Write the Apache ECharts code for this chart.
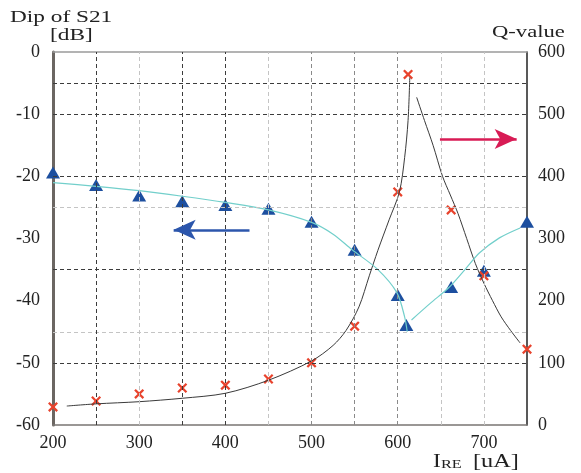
<!DOCTYPE html>
<html>
<head>
<meta charset="utf-8">
<script src="https://cdn.jsdelivr.net/npm/echarts@6/dist/echarts.min.js"></script>
<style>
html,body{margin:0;padding:0;background:#fff;}
#chart{width:581px;height:473px;}
</style>
</head>
<body>
<div id="chart"></div>
<script>
// ---- data ----
const xTickLabels = [200, 300, 400, 500, 600, 700];
const dipX = [200, 250, 300, 350, 400, 450, 500, 550, 600, 610, 662, 700, 750];
const dipDb = [-19.4, -21.4, -23.1, -24.0, -24.6, -25.2, -27.3, -31.8, -39.1, -43.9, -37.8, -35.2, -27.3];
const qX = [200, 250, 300, 350, 400, 450, 500, 550, 600, 612, 662, 700, 750];
const qVal = [29, 38.6, 50, 59.5, 64, 74, 100, 159, 375, 564, 346, 240, 122];
// fitted curves
const qFitLeftX = [216, 250, 300, 350, 400, 450, 500, 525, 540, 555, 567, 577, 590, 602, 608, 612, 614];
const qFitLeftY = [30.5, 34, 37.5, 43, 51, 72, 103, 128, 152, 190, 240, 281, 330, 375, 430, 490, 559];
const qFitRightX = [622, 631, 641, 652, 661, 670, 680, 690, 700, 710, 720, 731, 742];
const qFitRightY = [527, 490, 450, 400, 370, 340, 300, 260, 228, 200, 174, 152, 132];
const dipFitLeftX = [200, 250, 300, 350, 400, 450, 500, 525, 547, 577, 599, 608, 611];
const dipFitLeftY = [-21.0, -21.6, -22.3, -23.2, -24.2, -25.4, -27.4, -29.3, -31.8, -35.0, -38.7, -42.6, -45.0];
const dipFitRightX = [616, 638, 660, 678, 695, 718, 742];
const dipFitRightY = [-43.1, -40.4, -37.8, -35.0, -32.3, -29.9, -28.3];
// grid lines (left axis units / x units)
const hGridDark = [-5, -10, -20, -35, -50];
const hGridLight = [-25, -45];
const vGridDark = [250, 350, 400];
const vGridMid = [500, 550, 600];
const vGridLight = [300, 450, 650, 700];
// annotation arrows
const blueArrow = [[428, -28.6], [340, -28.6]];
const redArrow = [[649, -14], [738, -14]];

const zip = (xs, ys) => xs.map((x, i) => [x, ys[i]]);
const FONT = 'Liberation Serif';
const dashDark = {color: '#3c3c3c', type: [4, 3], width: 1};
const dashMid = {color: '#8a8a8a', type: [4, 3], width: 1};
const dashLight = {color: '#c4c4c4', type: [4, 3], width: 1};

const gridLines = []
  .concat(hGridDark.map(v => ({yAxis: v, lineStyle: dashDark})))
  .concat(hGridLight.map(v => ({yAxis: v, lineStyle: dashLight})))
  .concat(vGridDark.map(v => ({xAxis: v, lineStyle: dashDark})))
  .concat(vGridMid.map(v => ({xAxis: v, lineStyle: dashMid})))
  .concat(vGridLight.map(v => ({xAxis: v, lineStyle: dashLight})));

const crossPath = 'path://M0,1.6L1.6,0L5,3.4L8.4,0L10,1.6L6.6,5L10,8.4L8.4,10L5,6.6L1.6,10L0,8.4L3.4,5Z';
const labelStyle = {fontFamily: FONT, fontSize: 18, color: '#222'};

const chart = echarts.init(document.getElementById('chart'), null, {renderer: 'canvas'});
chart.setOption({
  animation: false,
  backgroundColor: '#fff',
  grid: {left: 53, right: 54, top: 52, bottom: 48},
  xAxis: [{
    type: 'value', min: 200, max: 750, interval: 100,
    axisLine: {onZero: false, lineStyle: {color: '#7a7673', width: 1.5}},
    axisTick: {show: false}, splitLine: {show: false},
    axisLabel: Object.assign({margin: 9, formatter: v => xTickLabels.includes(v) ? String(v) : ''}, labelStyle)
  }, {
    type: 'value', min: 200, max: 750, position: 'top',
    axisLine: {show: true, onZero: false, lineStyle: {color: '#9a9a9a', width: 1.5}},
    axisTick: {show: false}, splitLine: {show: false}, axisLabel: {show: false}
  }],
  yAxis: [{
    type: 'value', min: -60, max: 0, interval: 10, position: 'left',
    axisLine: {show: true, onZero: false, lineStyle: {color: '#6b6662', width: 3}},
    axisTick: {show: false}, splitLine: {show: false},
    axisLabel: Object.assign({margin: 13}, labelStyle)
  }, {
    type: 'value', min: 0, max: 600, interval: 100, position: 'right',
    axisLine: {show: true, onZero: false, lineStyle: {color: '#222', width: 1.5}},
    axisTick: {show: false}, splitLine: {show: false},
    axisLabel: Object.assign({margin: 11}, labelStyle)
  }],
  graphic: [
    {type: 'text', left: 10, top: 9, scaleX: 1.37, style: {text: 'Dip of S21', font: '17px "Liberation Serif"', fill: '#222'}},
    {type: 'text', left: 50, top: 27, scaleX: 1.37, style: {text: '[dB]', font: '17px "Liberation Serif"', fill: '#222'}},
    {type: 'text', left: 492, top: 24, scaleX: 1.33, style: {text: 'Q-value', font: '17px "Liberation Serif"', fill: '#222'}},
    {type: 'text', left: 433, top: 453, scaleX: 1.3, style: {text: 'I', font: '18px "Liberation Serif"', fill: '#222'}},
    {type: 'text', left: 441, top: 459, scaleX: 1.35, style: {text: 'RE', font: '12px "Liberation Serif"', fill: '#222'}},
    {type: 'text', left: 473, top: 453, scaleX: 1.35, style: {text: '[uA]', font: '18px "Liberation Serif"', fill: '#222'}}
  ],
  series: [
    {
      type: 'line', data: [], silent: true,
      markLine: {silent: true, symbol: ['none', 'none'], label: {show: false}, animation: false, data: gridLines}
    },
    {type: 'line', yAxisIndex: 1, data: zip(qFitLeftX, qFitLeftY), smooth: 0.3, symbol: 'none', silent: true,
     lineStyle: {color: '#3a3a3a', width: 1}},
    {type: 'line', yAxisIndex: 1, data: zip(qFitRightX, qFitRightY), smooth: 0.3, symbol: 'none', silent: true,
     lineStyle: {color: '#3a3a3a', width: 1}},
    {type: 'line', yAxisIndex: 0, data: zip(dipFitLeftX, dipFitLeftY), smooth: 0.3, symbol: 'none', silent: true,
     lineStyle: {color: '#72cfcb', width: 1.2}},
    {type: 'line', yAxisIndex: 0, data: zip(dipFitRightX, dipFitRightY), smooth: 0.3, symbol: 'none', silent: true,
     lineStyle: {color: '#72cfcb', width: 1.2}},
    {type: 'scatter', yAxisIndex: 0, data: zip(dipX, dipDb), symbol: 'triangle', symbolSize: [14, 12],
     itemStyle: {color: '#1d4f9f', opacity: 1}},
    {type: 'scatter', yAxisIndex: 1, data: zip(qX, qVal), symbol: crossPath, symbolSize: 10,
     itemStyle: {color: '#e8432d', opacity: 1}},
    {
      type: 'line', data: [], silent: true,
      markLine: {
        silent: true, label: {show: false}, animation: false, symbol: ['none', 'arrow'],
        data: [
          [{coord: blueArrow[0], symbol: 'none'}, {coord: blueArrow[1], symbol: 'arrow', symbolSize: [15, 22]}],
          [{coord: redArrow[0], symbol: 'none', lineStyle: {color: '#d81b55', width: 2.5, type: 'solid'}},
           {coord: redArrow[1], symbol: 'arrow', symbolSize: [15, 22]}]
        ],
        lineStyle: {color: '#2c56ac', width: 2.5, type: 'solid'}
      }
    }
  ]
});
</script>
</body>
</html>
